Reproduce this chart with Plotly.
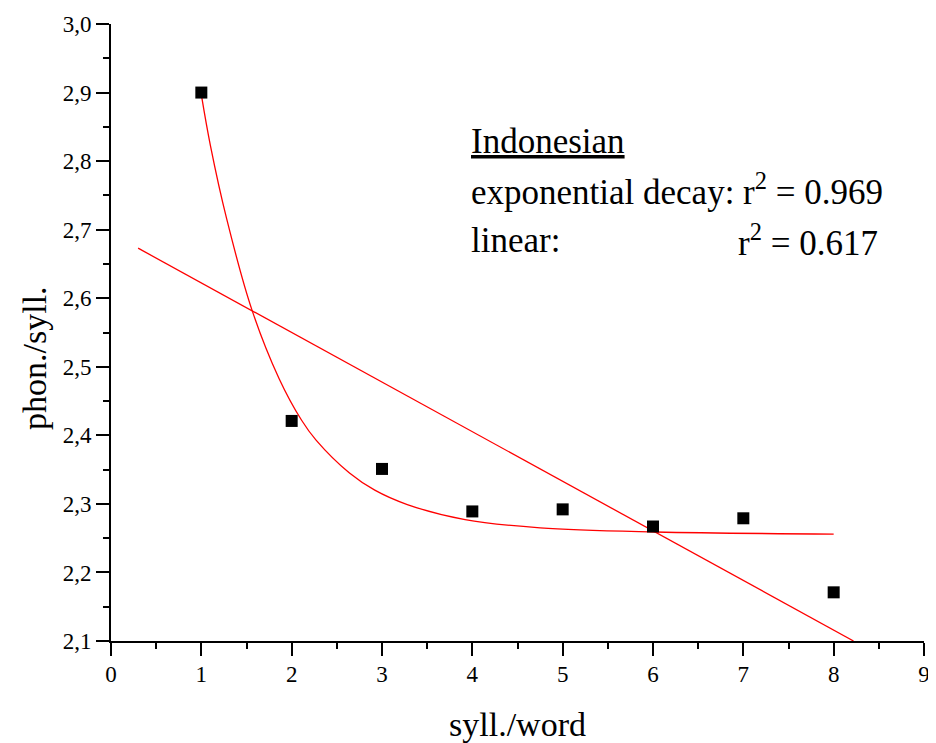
import plotly.graph_objects as go

# Observed data
syll_per_word = [1, 2, 3, 4, 5, 6, 7, 8]
phon_per_syll = [2.900, 2.421, 2.351, 2.289, 2.292, 2.267, 2.279, 2.171]

# Exponential decay fit curve
exp_x = [1.0, 1.10, 1.28, 1.56, 1.86, 2.11, 2.27, 2.64, 2.92, 3.28, 3.92, 4.75, 6.03, 8.0]
exp_y = [2.897, 2.823, 2.716, 2.583, 2.483, 2.422, 2.393, 2.345, 2.320, 2.299, 2.277, 2.265, 2.259, 2.256]

# Linear fit line
lin_x = [0.30, 8.22]
lin_y = [2.673, 2.100]

x_ticks = [0, 1, 2, 3, 4, 5, 6, 7, 8, 9]
y_ticks = [2.1, 2.2, 2.3, 2.4, 2.5, 2.6, 2.7, 2.8, 2.9, 3.0]

FONT = "Liberation Serif"

fig = go.Figure()
fig.add_trace(go.Scatter(x=lin_x, y=lin_y, mode="lines",
                         line=dict(color="#ff0000", width=1.3), showlegend=False))
fig.add_trace(go.Scatter(x=exp_x, y=exp_y, mode="lines", line_shape="spline",
                         line=dict(color="#ff0000", width=1.3, smoothing=1.0), showlegend=False))
fig.add_trace(go.Scatter(x=syll_per_word, y=phon_per_syll, mode="markers",
                         marker=dict(symbol="square", size=12, color="black", line=dict(width=0)),
                         showlegend=False))

axis_common = dict(showline=True, linecolor="black", linewidth=2,
                   ticks="outside", ticklen=13, tickwidth=2, tickcolor="black",
                   showgrid=False, zeroline=False, mirror=False, automargin=False,
                   tickfont=dict(family=FONT, size=23, color="black"))

fig.update_xaxes(range=[0, 9], tickvals=x_ticks, tickmode="array", ticklabelstandoff=-2,
                 minor=dict(ticks="outside", ticklen=6, tickwidth=2, tickcolor="black", dtick=0.5,
                            showgrid=False),
                 title=dict(text="syll./word", font=dict(family=FONT, size=34, color="black"), standoff=28),
                 **axis_common)
fig.update_yaxes(range=[2.1, 3.0], tickvals=y_ticks, tickmode="array", tickformat=".1f",
                 ticklabelstandoff=0,
                 minor=dict(ticks="outside", ticklen=6, tickwidth=2, tickcolor="black", dtick=0.05,
                            showgrid=False),
                 **axis_common)

# y-axis title (placed below the axis centre, as in the original)
fig.add_annotation(x=-0.095, y=0.4583, xref="paper", yref="paper", text="phon./syll.",
                   textangle=-90, showarrow=False, xanchor="center", yanchor="middle",
                   font=dict(family=FONT, size=34, color="black"))

ann_font = dict(family=FONT, size=35, color="black")
fig.add_annotation(x=3.964, y=2.828, xref="x", yref="y", text="<u>Indonesian</u>",
                   showarrow=False, xanchor="left", yanchor="middle", font=ann_font)
fig.add_annotation(x=3.964, y=2.758, xref="x", yref="y", text="exponential decay: r<sup>2</sup> = 0.969",
                   showarrow=False, xanchor="left", yanchor="middle", font=ann_font)
fig.add_annotation(x=3.964, y=2.684, xref="x", yref="y", text="linear:",
                   showarrow=False, xanchor="left", yanchor="middle", font=ann_font)
fig.add_annotation(x=6.917, y=2.684, xref="x", yref="y", text="r<sup>2</sup> = 0.617",
                   showarrow=False, xanchor="left", yanchor="middle", font=ann_font)

# The page body adds an 8px offset; figure size/margins compensate for it
fig.update_layout(template="none", width=928, height=735, separators=", ",
                  margin=dict(l=102.5, r=11.7, t=15.5, b=102, pad=0),
                  plot_bgcolor="white", paper_bgcolor="white",
                  font=dict(family=FONT, color="black"))

fig.write_html("out.html")
